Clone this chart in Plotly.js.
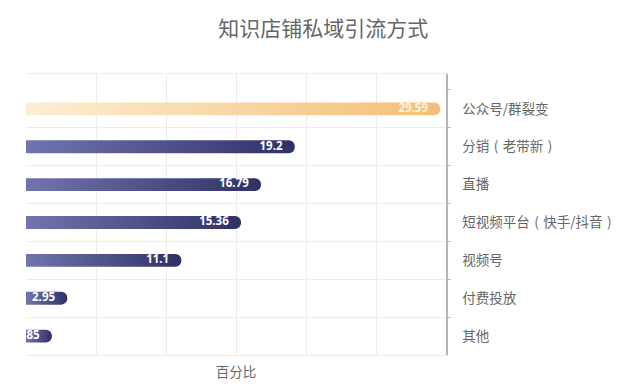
<!DOCTYPE html>
<html>
<head>
<meta charset="utf-8">
<script src="https://cdn.plot.ly/plotly-3.0.1.min.js"></script>
<style>
html,body{margin:0;padding:0;background:#fff;}
#chart{width:624px;height:391px;}
</style>
</head>
<body>
<div id="chart"></div>
<script>
const categories = ["公众号/群裂变", "分销\u2004(\u2004老带新\u2004)", "直播", "短视频平台\u2004(\u2004快手/抖音\u2004)", "视频号", "付费投放", "其他"];
const values = [29.59, 19.2, 16.79, 15.36, 11.1, 2.95, 1.85];
const valueLabels = ["29.59", "19.2", "16.79", "15.36", "11.1", "2.95", "1.85"];
const chartTitle = "知识店铺私域引流方式";
const xTitle = "百分比";

const font = "'Noto Sans CJK SC', 'Noto Sans', sans-serif";

const bars = {
  type: 'bar',
  orientation: 'h',
  y: categories,
  x: values,
  width: 0.34,
  textposition: 'none',
  marker: {
    color: values.map((v, i) => i === 0 ? '#f7cf8f' : '#4a4c84'),
    cornerradius: 7,
    line: {width: 0}
  },
  hoverinfo: 'none'
};

const labels = {
  type: 'scatter',
  mode: 'markers+text',
  y: categories,
  x: values,
  text: valueLabels,
  textposition: 'middle left',
  cliponaxis: true,
  marker: {size: 18, opacity: 0},
  textfont: {
    family: "'Open Sans', 'DejaVu Sans', sans-serif",
    size: 11.5,
    weight: 'bold',
    color: values.map((v, i) => i === 0 ? 'rgba(255,255,255,0.8)' : '#ffffff')
  },
  hoverinfo: 'none'
};

const layout = {
  width: 624,
  height: 391,
  margin: {l: 26, r: 178, t: 74, b: 36},
  paper_bgcolor: '#ffffff',
  plot_bgcolor: '#ffffff',
  showlegend: false,
  title: {
    text: chartTitle,
    x: 0.518, xanchor: 'center',
    y: 0.928, yanchor: 'middle',
    font: {family: font, size: 21, color: '#666666'}
  },
  xaxis: {
    range: [0, 30],
    dtick: 5,
    showticklabels: false,
    showgrid: true,
    gridcolor: '#ececec',
    gridwidth: 1,
    zeroline: false,
    showline: true,
    linecolor: '#ececec',
    mirror: true,
    ticks: '',
    title: {text: xTitle, font: {family: font, size: 13.5, color: '#666666'}, standoff: 12}
  },
  yaxis: {
    type: 'category',
    side: 'right',
    range: [6.5, -0.92],
    tickson: 'boundaries',
    showgrid: true,
    gridcolor: '#ececec',
    gridwidth: 1,
    zeroline: false,
    showline: true,
    linecolor: '#b5b5b5',
    linewidth: 1.5,
    ticks: 'outside',
    ticklen: 3,
    tickcolor: '#c0c0c0',
    ticklabelstandoff: 12,
    tickfont: {family: font, size: 13.5, color: '#666666'}
  }
};

Plotly.newPlot('chart', [bars, labels], layout, {displayModeBar: false, staticPlot: true}).then(gd => {
  const svg = gd.querySelector('svg.main-svg');
  const ns = 'http://www.w3.org/2000/svg';
  let defs = svg.querySelector('defs');
  if (!defs) { defs = document.createElementNS(ns, 'defs'); svg.insertBefore(defs, svg.firstChild); }
  function grad(id, stops) {
    const g = document.createElementNS(ns, 'linearGradient');
    g.setAttribute('id', id);
    g.setAttribute('x1', '0'); g.setAttribute('y1', '0');
    g.setAttribute('x2', '1'); g.setAttribute('y2', '0');
    stops.forEach(([o, c]) => {
      const s = document.createElementNS(ns, 'stop');
      s.setAttribute('offset', o); s.setAttribute('stop-color', c);
      g.appendChild(s);
    });
    defs.appendChild(g);
  }
  grad('gOrange', [['0', '#fdeed3'], ['1', '#f3bf76']]);
  grad('gBlue', [['0', '#7275ad'], ['1', '#2f3166']]);
  const paths = gd.querySelectorAll('.barlayer .point path');
  paths.forEach((p, i) => {
    p.style.fill = i === 0 ? 'url(#gOrange)' : 'url(#gBlue)';
  });
  // hide the gridline at the top category boundary (absent in the reference)
  const grids = Array.from(gd.querySelectorAll('.gridlayer .y path, .gridlayer .ygrid'));
  let minY = Infinity, minEl = null;
  grids.forEach(el => {
    const t = el.getAttribute('transform') || '';
    const m = t.match(/translate\(\s*[-\d.]+\s*,\s*([-\d.]+)/);
    const d = el.getAttribute('d') || '';
    let y = m ? parseFloat(m[1]) : NaN;
    if (isNaN(y)) { const mm = d.match(/M[-\d.]+,([-\d.]+)/); if (mm) y = parseFloat(mm[1]); }
    if (!isNaN(y) && y < minY) { minY = y; minEl = el; }
  });
  if (minEl) minEl.style.display = 'none';
});
</script>
</body>
</html>
